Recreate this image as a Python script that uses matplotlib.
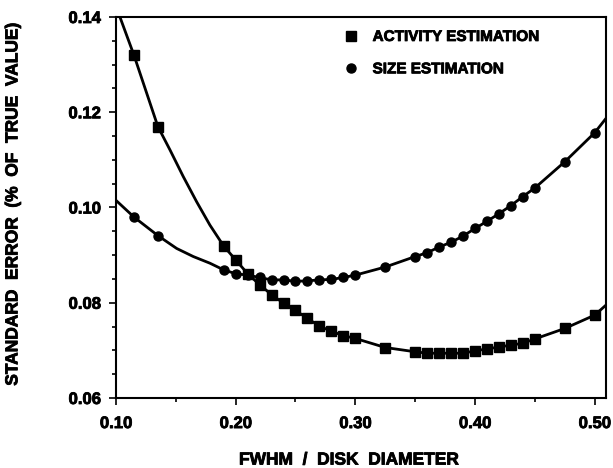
import matplotlib
matplotlib.use("Agg")
import matplotlib.pyplot as plt
import matplotlib.patheffects as pe
import numpy as np

# FWHM / disk diameter at which both estimates were computed
fwhm_ratio = [0.115, 0.135, 0.19, 0.20, 0.21, 0.22, 0.23, 0.24, 0.25, 0.26,
              0.27, 0.28, 0.29, 0.30, 0.325, 0.35, 0.36, 0.37, 0.38, 0.39,
              0.40, 0.41, 0.42, 0.43, 0.44, 0.45, 0.475, 0.50]

activity_err = [0.1320, 0.1170, 0.0919, 0.0890, 0.0861, 0.0838, 0.0817, 0.0799,
                0.0784, 0.0767, 0.0751, 0.0740, 0.0731, 0.0725, 0.0706, 0.0697,
                0.0694, 0.0694, 0.0694, 0.0694, 0.0699, 0.0703, 0.0707, 0.0711,
                0.0715, 0.0724, 0.0746, 0.0774]

size_err = [0.0980, 0.0941, 0.0869, 0.0861, 0.0858, 0.0853, 0.0848, 0.0848,
            0.0845, 0.0846, 0.0848, 0.0849, 0.0853, 0.0858, 0.0875, 0.0897,
            0.0905, 0.0917, 0.0927, 0.0940, 0.0956, 0.0971, 0.0987, 0.1004,
            0.1023, 0.1041, 0.1096, 0.1157]

# extra points (ends and the gaps between markers)
activity_curve_x = [0.1033, 0.1451, 0.1562, 0.1674, 0.1785, 0.5094]
activity_curve_y = [0.1400, 0.1121, 0.1065, 0.1012, 0.0963, 0.0795]
size_curve_x = [0.100, 0.1507, 0.1646, 0.1785, 0.5094]
size_curve_y = [0.1015, 0.0914, 0.0897, 0.0883, 0.1187]


def curve(xs, ys, extra_x, extra_y):
    x = np.concatenate([xs, extra_x])
    y = np.concatenate([ys, extra_y])
    order = np.argsort(x)
    return x[order], y[order]


plt.rcParams["font.family"] = ["Liberation Sans", "DejaVu Sans"]
plt.rcParams["font.weight"] = "bold"

# scanned print has heavy type, thicken the glyphs a little
heavy = [pe.withStroke(linewidth=0.6, foreground="black")]

fig = plt.figure(figsize=(6.13, 4.68), dpi=100)
ax = fig.add_axes([0.1892, 0.1496, 0.7993, 0.8141])

ax_x, ax_y = curve(fwhm_ratio, activity_err, activity_curve_x, activity_curve_y)
sz_x, sz_y = curve(fwhm_ratio, size_err, size_curve_x, size_curve_y)
ax.plot(ax_x, ax_y, color="black", lw=2.0, solid_capstyle="round", solid_joinstyle="round")
ax.plot(sz_x, sz_y, color="black", lw=2.0, solid_capstyle="round", solid_joinstyle="round")

ax.plot(fwhm_ratio, activity_err, "s", color="black", ms=7, label="ACTIVITY ESTIMATION")
ax.plot(fwhm_ratio, size_err, "o", color="black", ms=6.5, label="SIZE ESTIMATION")

ax.set_xlim(0.10, 0.5094)
ax.set_ylim(0.06, 0.14)
ax.set_xticks([0.10, 0.20, 0.30, 0.40, 0.50])
ax.set_xticklabels(["0.10", "0.20", "0.30", "0.40", "0.50"])
ax.set_xticks(np.arange(0.15, 0.50, 0.10), minor=True)
ax.set_yticks([0.06, 0.08, 0.10, 0.12, 0.14])
ax.set_yticklabels(["0.06", "0.08", "0.10", "0.12", "0.14"])
ax.set_yticks(np.arange(0.065, 0.14, 0.005), minor=True)

ax.tick_params(which="major", direction="out", length=5, width=1.2,
               labelsize=12, pad=6)
ax.tick_params(axis="x", which="major", pad=8)
ax.tick_params(which="minor", direction="out", length=3, width=1.2)
for lab in ax.get_xticklabels() + ax.get_yticklabels():
    lab.set_fontweight("bold")
    lab.set_path_effects(heavy)
for sp in ax.spines.values():
    sp.set_linewidth(1.5)

leg = ax.legend(loc="upper left", bbox_to_anchor=(0.452, 0.982), frameon=False,
                borderaxespad=0, handlelength=1.0, handletextpad=0.9,
                labelspacing=1.2, prop={"size": 11, "weight": "bold"})
for t in leg.get_texts():
    t.set_path_effects(heavy)

fig.text(0.021, 0.564, "STANDARD  ERROR  (%  OF  TRUE  VALUE)", rotation=90,
         ha="center", va="center", fontsize=12.5, fontweight="bold",
         path_effects=heavy)
fig.text(0.569, 0.017, "FWHM  /  DISK  DIAMETER", ha="center", va="center",
         fontsize=12.5, fontweight="bold", path_effects=heavy)

fig.savefig("out.png", dpi=100)
